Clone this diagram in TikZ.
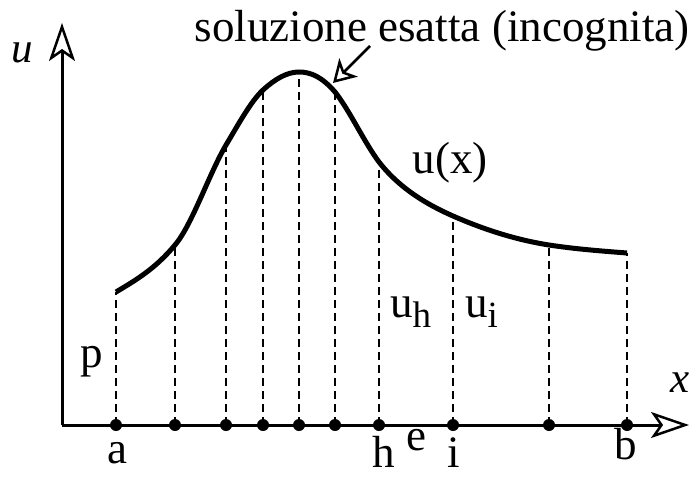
\documentclass[tikz,border=0pt]{standalone}
\usepackage{fontspec}
\setmainfont{Liberation Serif}
\usetikzlibrary{arrows.meta}
\begin{document}
\begin{tikzpicture}[x=1pt,y=-1pt,
  axis/.style={line width=3pt,-{Stealth[fill=white,length=38pt,width=26pt,inset=9pt,line width=2.5pt]}},
  curve/.style={line width=5pt},
  drop/.style={line width=2.5pt,dash pattern=on 8pt off 5pt},
  dot/.style={circle,fill=black,inner sep=0pt,minimum size=12pt},
  lab/.style={inner sep=0pt,anchor=base,font=\fontsize{45}{54}\selectfont},
  axlab/.style={inner sep=0pt,anchor=base,font=\fontsize{43}{50}\selectfont\itshape},
  note/.style={line width=2.5pt,-{Stealth[fill=white,length=22pt,width=26pt,inset=6pt,line width=2.5pt]}}]
\useasboundingbox (0,0) rectangle (692,476);
% axes
\coordinate (O) at (62,425);
\coordinate (ytip) at (62,23);
\coordinate (xtip) at (689,425);
\draw[axis] (O) -- (ytip);
\draw[axis] (O) -- (xtip);
% curve points
\coordinate (c1) at (116,292);
\coordinate (c2) at (175,245);
\coordinate (c3) at (226,145);
\coordinate (c4) at (263,90);
\coordinate (c5) at (299,72);
\coordinate (c6) at (335,92);
\coordinate (c7) at (379,162);
\coordinate (c8) at (453,216);
\coordinate (c9) at (549,245);
\coordinate (c10) at (627,253);
% nodes on x axis
\foreach \i/\x in {1/116,2/175,3/226,4/263,5/299,6/335,7/379,8/453,9/549,10/627}{
  \node[dot] (d\i) at (\x,425) {};
  \draw[drop] (d\i.center) -- (c\i);
}
\draw[curve] (c1) .. controls (136,280) and (155,269) .. (c2)
  .. controls (192,225) and (209,174) .. (c3)
  .. controls (238,125) and (251,101) .. (c4)
  .. controls (275,79) and (287,72) .. (c5)
  .. controls (311,72) and (322,77) .. (c6)
  .. controls (350,111) and (364,142) .. (c7)
  .. controls (400,189) and (428,205) .. (c8)
  .. controls (485,230) and (517,240) .. (c9)
  .. controls (575,249) and (601,251) .. (c10);
% annotation
\node[lab] (title) at (442,42) {soluzione esatta (incognita)};
\coordinate (nstart) at (370,46);
\coordinate (ntip) at (333,83);
\draw[note] (nstart) -- (ntip);
% labels
\node[axlab] (ulab) at (22,63) {u};
\node[axlab] (xlab) at (680,392) {x};
\node[lab] (ux) at (450,173) {u(x)};
\node[lab,anchor=base west] (uh) at (390,317) {u\raisebox{-10pt}{\fontsize{37}{40}\selectfont h}};
\node[lab,anchor=base west] (ui) at (465,317) {u\raisebox{-10pt}{\fontsize{37}{40}\selectfont i}};
\node[lab] (p) at (92,367) {p};
\node[lab] (a) at (117,463) {a};
\node[lab] (h) at (384,467) {h};
\node[lab] (e) at (416,450) {e};
\node[lab] (i) at (454,467) {i};
\node[lab] (b) at (626,459) {b};
\end{tikzpicture}
\end{document}
